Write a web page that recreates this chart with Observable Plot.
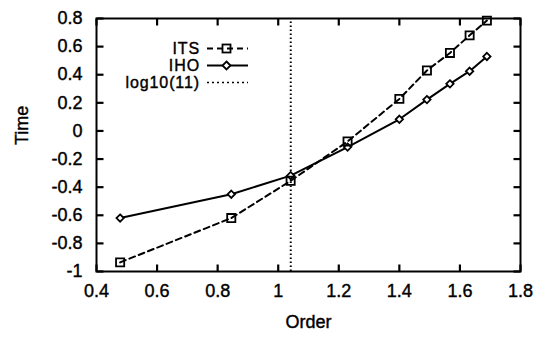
<!DOCTYPE html>
<html>
<head>
<meta charset="utf-8">
<script src="https://cdn.jsdelivr.net/npm/d3@7"></script>
<script src="https://cdn.jsdelivr.net/npm/@observablehq/plot@0.6"></script>
<style>
  html, body { margin: 0; padding: 0; background: #fff; }
  #wrap { position: relative; width: 536px; height: 339px; font-family: "Liberation Sans", Arial, sans-serif; }
  #wrap svg text { stroke: #000; stroke-width: 0.4px; }
  #legend { position: absolute; left: 0; top: 0; font-size: 16px; letter-spacing: 0.9px; color: #000; -webkit-text-stroke: 0.4px #000; }
  .row { position: absolute; left: 80px; width: 120px; text-align: right; line-height: 17px; height: 17px; white-space: nowrap; }
  .sw { position: absolute; left: 206px; }
</style>
</head>
<body>
<div id="wrap"></div>
<script>
// Data
const order = [0.478, 0.845, 1.041, 1.229, 1.400, 1.491, 1.567, 1.632, 1.689];
const its   = [-0.935, -0.62, -0.355, -0.075, 0.228, 0.43, 0.555, 0.68, 0.785];
const iho   = [-0.62, -0.45, -0.318, -0.115, 0.083, 0.223, 0.335, 0.425, 0.53];
const vline = [1.0414]; // log10(11)
const xTicks = [0.4, 0.6, 0.8, 1.0, 1.2, 1.4, 1.6, 1.8];
const yTicks = [-1, -0.8, -0.6, -0.4, -0.2, 0, 0.2, 0.4, 0.6, 0.8];
const seriesNames = ["ITS", "IHO", "log10(11)"];

const itsData = order.map((x, i) => ({x, y: its[i]}));
const ihoData = order.map((x, i) => ({x, y: iho[i]}));
const fmt = d => String(+d.toFixed(1));

const W = 536, H = 339, mL = 96, mR = 16, mT = 18, mB = 68, tickPx = 7;
const fw = W - mL - mR, fh = H - mT - mB;
const xDom = [0.4, 1.8], yDom = [-1, 0.8];
// inward tick length expressed in data units of each scale
const tx = tickPx * (xDom[1] - xDom[0]) / fw;
const ty = tickPx * (yDom[1] - yDom[0]) / fh;
const tickData = {
  bottom: xTicks.map(v => ({x: v, y1: yDom[0], y2: yDom[0] + ty})),
  top: xTicks.map(v => ({x: v, y1: yDom[1] - ty, y2: yDom[1]})),
  left: yTicks.map(v => ({y: v, x1: xDom[0], x2: xDom[0] + tx})),
  right: yTicks.map(v => ({y: v, x1: xDom[1] - tx, x2: xDom[1]}))
};

const plot = Plot.plot({
  width: W,
  height: H,
  marginLeft: mL,
  marginRight: mR,
  marginTop: mT,
  marginBottom: mB,
  style: {fontFamily: "'Liberation Sans', Arial, sans-serif", fontSize: "18px", color: "#000", background: "#fff"},
  x: {domain: xDom, ticks: xTicks},
  y: {domain: yDom, ticks: yTicks},
  marks: [
    Plot.frame({stroke: "#000", strokeWidth: 2}),
    Plot.ruleX(vline, {x: d => d, y1: yDom[0], y2: yDom[1], stroke: "#000", strokeWidth: 2, strokeDasharray: "1.5,2.5"}),
    Plot.link(tickData.bottom, {x1: "x", x2: "x", y1: "y1", y2: "y2", stroke: "#000", strokeWidth: 2.2}),
    Plot.link(tickData.top, {x1: "x", x2: "x", y1: "y1", y2: "y2", stroke: "#000", strokeWidth: 2.2}),
    Plot.link(tickData.left, {x1: "x1", x2: "x2", y1: "y", y2: "y", stroke: "#000", strokeWidth: 2.2}),
    Plot.link(tickData.right, {x1: "x1", x2: "x2", y1: "y", y2: "y", stroke: "#000", strokeWidth: 2.2}),
    Plot.line(ihoData, {x: "x", y: "y", stroke: "#000", strokeWidth: 2}),
    Plot.line(itsData, {x: "x", y: "y", stroke: "#000", strokeWidth: 2, strokeDasharray: "6,4"}),
    Plot.dot(ihoData, {x: "x", y: "y", symbol: "diamond2", r: 3.3, stroke: "#000", strokeWidth: 1.8, fill: "#fff"}),
    Plot.dot(itsData, {x: "x", y: "y", symbol: "square", r: 4.6, stroke: "#000", strokeWidth: 1.8, fill: "none"}),
    Plot.axisX({ticks: xTicks, tickSize: 0, tickPadding: 13, tickFormat: fmt, label: null, fontSize: 18}),
    Plot.axisY({ticks: yTicks, tickSize: 0, tickPadding: 14, tickFormat: fmt, label: null, fontSize: 18}),
    Plot.text(["Order"], {frameAnchor: "bottom", dy: 56.5, fontSize: 18, fill: "#000"}),
    Plot.text(["Time"], {frameAnchor: "left", dx: -74, rotate: -90, fontSize: 18, fill: "#000"})
  ]
});

const wrap = document.getElementById("wrap");
wrap.appendChild(plot);

// Legend overlay
const legend = document.createElement("div");
legend.id = "legend";
const rowsY = [39.5, 56.5, 73.5];
const swatches = [
  `<svg width="44" height="17"><line x1="1" y1="8.5" x2="42" y2="8.5" stroke="#000" stroke-width="2" stroke-dasharray="6,4"/><rect x="16.5" y="4.5" width="8" height="8" fill="none" stroke="#000" stroke-width="1.8"/></svg>`,
  `<svg width="44" height="17"><line x1="1" y1="8.5" x2="42" y2="8.5" stroke="#000" stroke-width="2"/><path d="M20.5,4.5L24.5,8.5L20.5,12.5L16.5,8.5Z" fill="#fff" stroke="#000" stroke-width="1.8"/></svg>`,
  `<svg width="44" height="17"><line x1="1" y1="8.5" x2="42" y2="8.5" stroke="#000" stroke-width="1.5" stroke-dasharray="2,3"/></svg>`
];
seriesNames.forEach((name, i) => {
  const t = document.createElement("div");
  t.className = "row";
  t.style.top = rowsY[i] + "px";
  t.textContent = name;
  legend.appendChild(t);
  const s = document.createElement("div");
  s.className = "sw";
  s.style.top = rowsY[i] + "px";
  s.innerHTML = swatches[i];
  legend.appendChild(s);
});
wrap.appendChild(legend);
</script>
</body>
</html>
